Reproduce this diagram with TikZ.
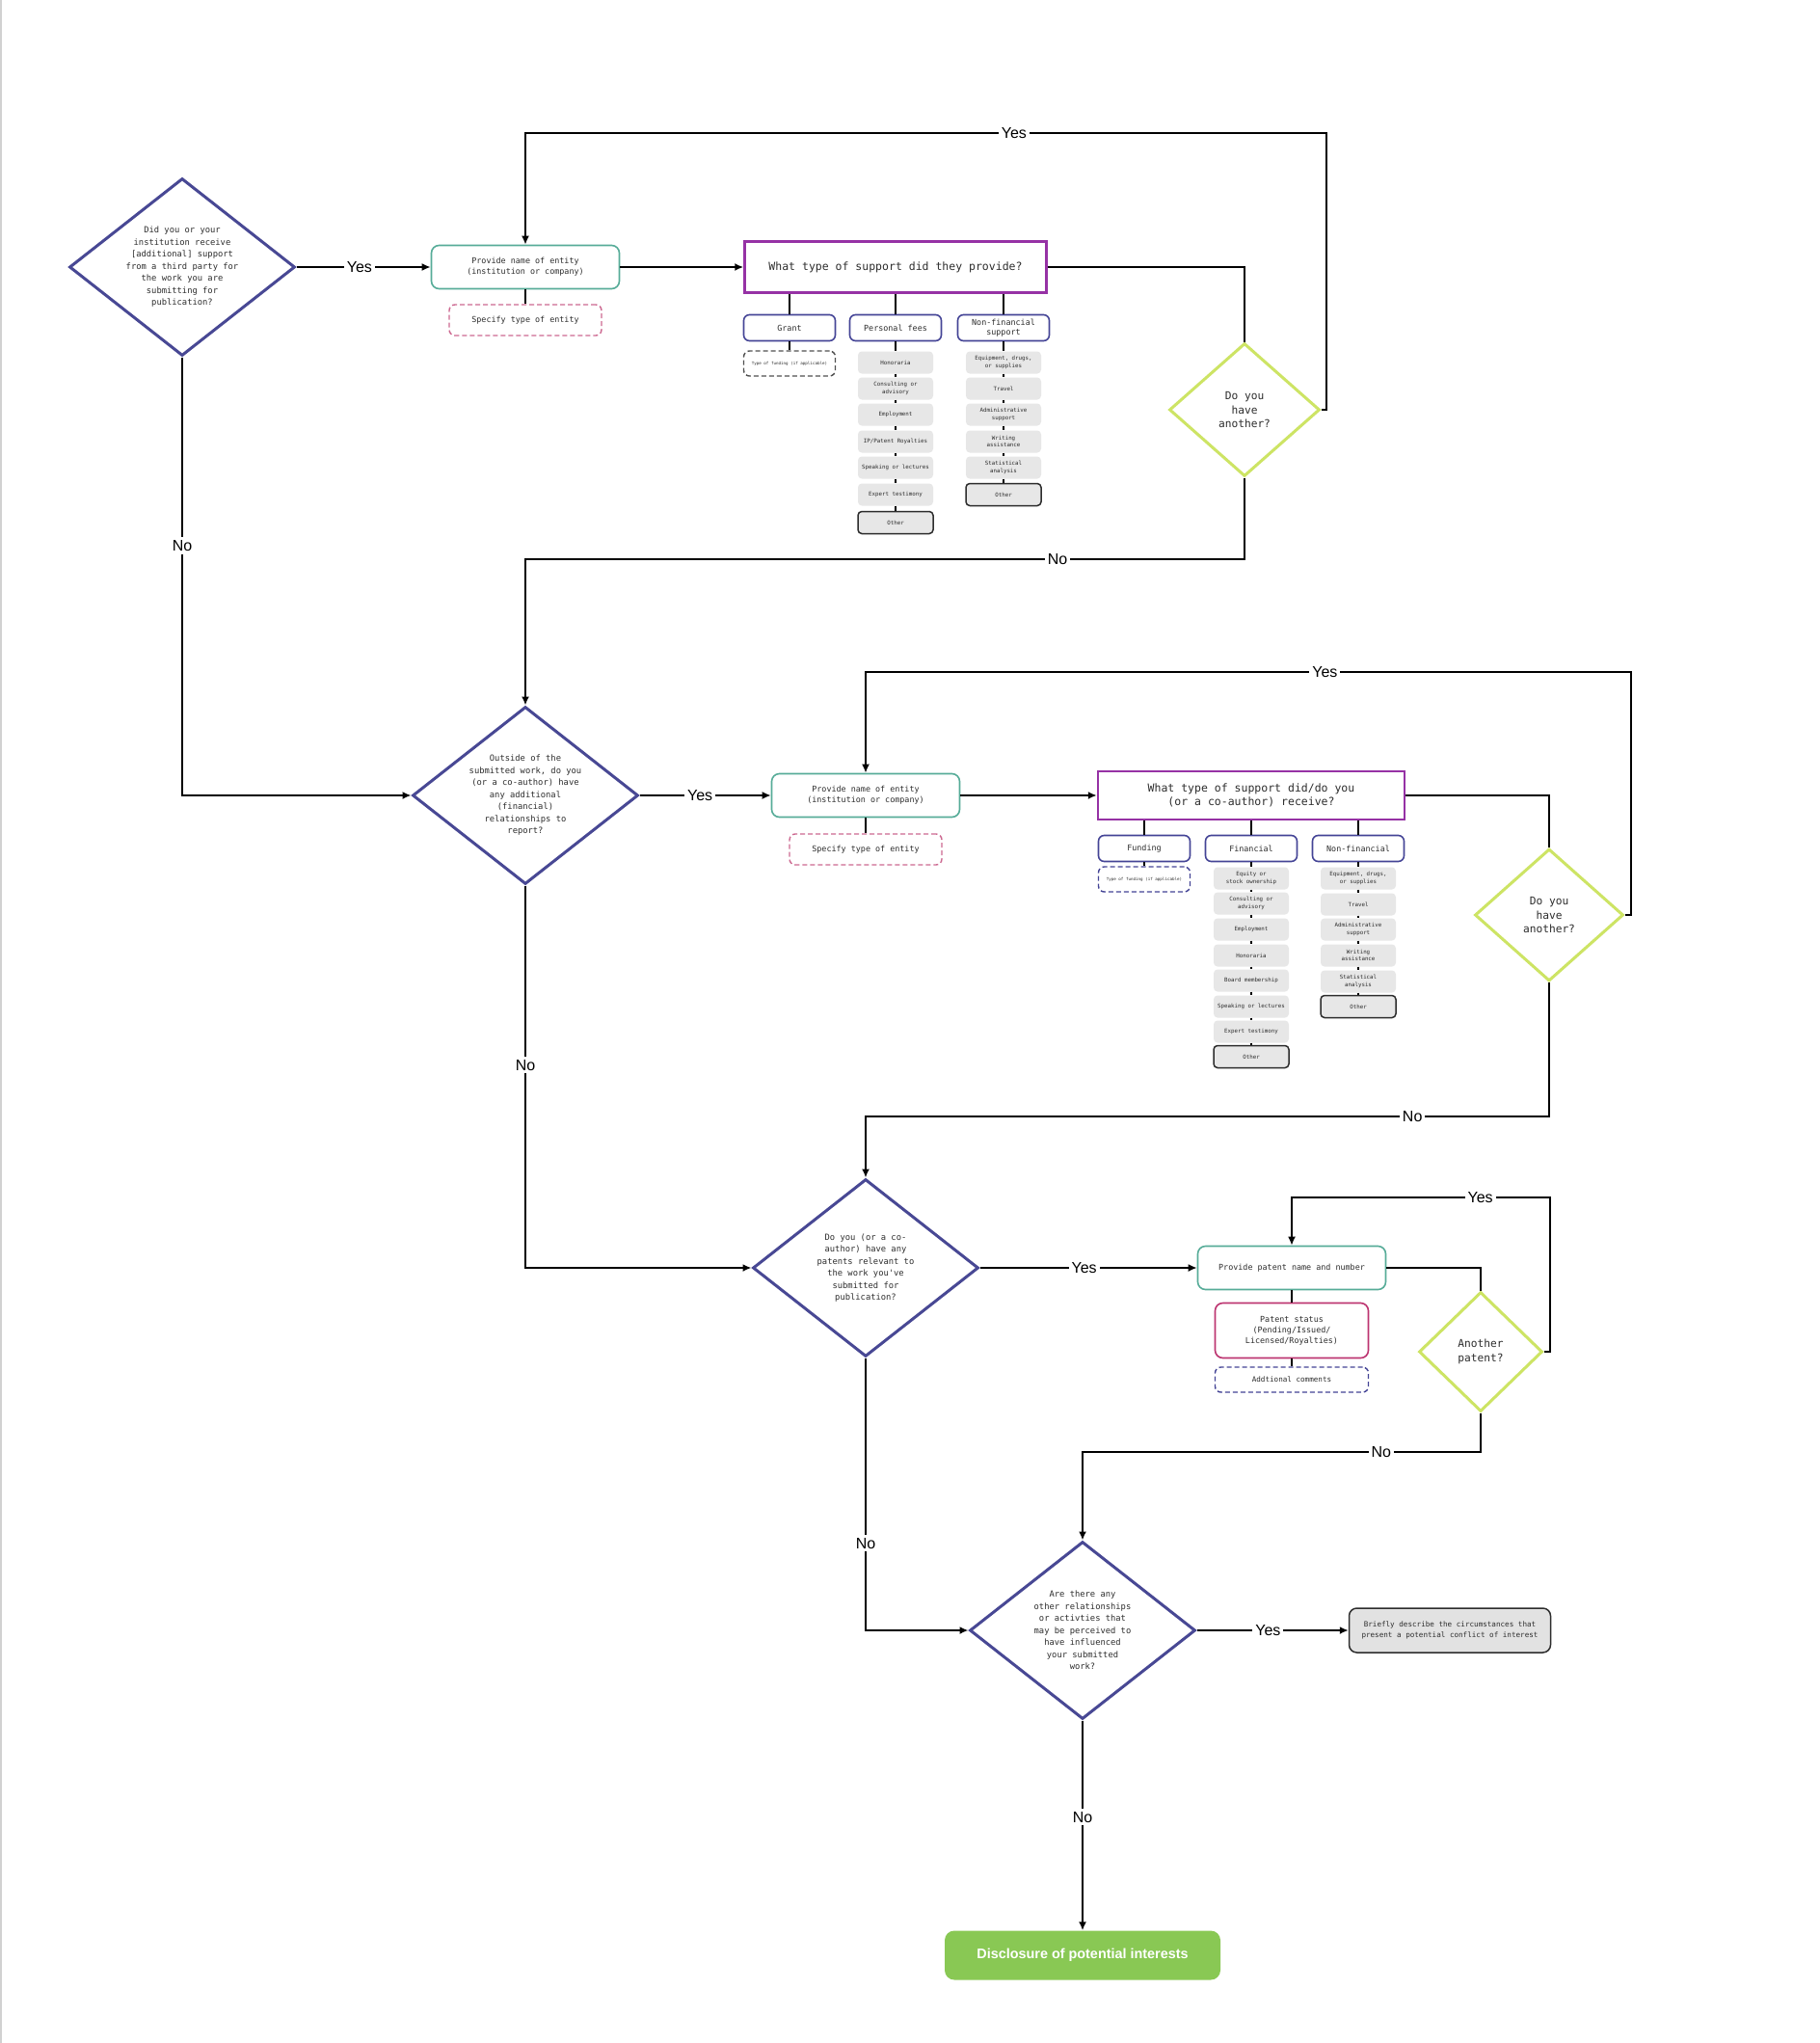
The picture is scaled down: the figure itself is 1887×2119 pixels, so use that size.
\documentclass[tikz,border=0pt]{standalone}
\usepackage{fontspec}
\setmonofont{DejaVu Sans Mono}
\setsansfont{Liberation Sans}
\usetikzlibrary{shapes.geometric,arrows.meta}

\definecolor{ink}{RGB}{45,45,45}
\definecolor{qblue}{RGB}{72,72,148}
\definecolor{tealb}{RGB}{86,172,152}
\definecolor{pinkd}{RGB}{205,105,145}
\definecolor{plum}{RGB}{150,50,165}
\definecolor{navyb}{RGB}{68,68,150}
\definecolor{limeq}{RGB}{205,228,100}
\definecolor{itemgray}{RGB}{231,231,231}
\definecolor{magb}{RGB}{188,52,112}
\definecolor{discgreen}{RGB}{137,200,84}
\definecolor{briefgray}{RGB}{226,226,226}
\definecolor{dashgray}{RGB}{80,80,80}

\begin{document}
\begin{tikzpicture}[x=1pt,y=-1pt,
  ask/.style={diamond, draw=qblue, line width=3pt, minimum width=234pt, minimum height=184pt,
    shape aspect=1.27, inner sep=0pt, align=center, text=ink,
    font=\ttfamily\fontsize{8.8}{12.5}\selectfont},
  again/.style={diamond, draw=limeq, line width=3pt, minimum width=156pt, minimum height=138pt,
    shape aspect=1.13, inner sep=0pt, align=center, text=ink,
    font=\ttfamily\fontsize{11.2}{14.6}\selectfont},
  entity/.style={rectangle, rounded corners=8pt, draw=tealb, line width=1.6pt,
    minimum width=195pt, minimum height=45pt, align=center, text=ink,
    font=\ttfamily\fontsize{8.4}{11}\selectfont},
  specify/.style={rectangle, rounded corners=6pt, draw=pinkd, dash pattern=on 5pt off 3pt,
    line width=1.4pt, minimum width=158pt, minimum height=32pt, align=center, text=ink,
    font=\ttfamily\fontsize{8.4}{11}\selectfont},
  supq/.style={rectangle, draw=plum, line width=2.5pt, minimum width=313pt, minimum height=53pt,
    align=center, text=ink, font=\ttfamily\fontsize{11.5}{14.5}\selectfont},
  hdr/.style={rectangle, rounded corners=6pt, draw=navyb, line width=1.6pt,
    minimum width=95pt, minimum height=27pt, inner sep=1pt, align=center, text=ink,
    font=\ttfamily\fontsize{8.4}{10.5}\selectfont},
  ftype/.style={rectangle, rounded corners=6pt, dash pattern=on 5pt off 3pt, line width=1.4pt,
    minimum width=95pt, minimum height=26pt, inner sep=1pt, text=ink,
    font=\ttfamily\fontsize{4.2}{5}\selectfont},
  item/.style={rectangle, rounded corners=4pt, fill=itemgray, minimum width=78pt,
    minimum height=23pt, inner sep=1pt, align=center, text=ink,
    font=\ttfamily\fontsize{5.8}{7.6}\selectfont},
  itemend/.style={item, draw=ink, line width=1.5pt},
  lbl/.style={fill=white, inner sep=3pt, text=black, font=\sffamily\fontsize{16}{16}\selectfont},
  link/.style={draw=black, line width=2pt},
  arr/.style={link, -{Latex[length=9pt,width=8pt]}}]

  \useasboundingbox[fill=white] (0,0) rectangle (1887,2119);
  \draw[black!18, line width=1.5pt] (1,0) -- (1,2119);

  % Define nodes: first question
  \node[ask] (q1) at (189,277) {Did you or your\\institution receive\\{[additional]} support\\from a third party for\\the work you are\\submitting for\\publication?};
  \node[entity] (ent1) at (545,277) {Provide name of entity\\(institution or company)};
  \node[specify] (spec1) at (545,332) {Specify type of entity};
  \node[supq] (sup1) at (929,277) {What type of support did they provide?};
  \node[hdr] (grant) at (819,340) {Grant};
  \node[hdr] (pfees) at (929,340) {Personal fees};
  \node[hdr] (nfin1) at (1041,340) {Non-financial\\support};
  \node[ftype, draw=dashgray] (gtype) at (819,377) {Type of funding (if applicable)};
  \node[item] (pf1) at (929,376) {Honoraria};
  \node[item] (pf2) at (929,403) {Consulting or\\advisory};
  \node[item] (pf3) at (929,430) {Employment};
  \node[item] (pf4) at (929,458) {IP/Patent Royalties};
  \node[item] (pf5) at (929,485) {Speaking or lectures};
  \node[item] (pf6) at (929,513) {Expert testimony};
  \node[itemend] (pf7) at (929,542) {Other};
  \node[item] (nfa1) at (1041,376) {Equipment, drugs,\\or supplies};
  \node[item] (nfa2) at (1041,403) {Travel};
  \node[item] (nfa3) at (1041,430) {Administrative\\support};
  \node[item] (nfa4) at (1041,458) {Writing\\assistance};
  \node[item] (nfa5) at (1041,485) {Statistical\\analysis};
  \node[itemend] (nfa6) at (1041,513) {Other};
  \node[again] (more1) at (1291,425) {Do you\\have\\another?};
  \coordinate (yes1) at (1376,138);
  \coordinate (no1) at (1291,580);

  % second question
  \node[ask] (q2) at (545,825) {Outside of the\\submitted work, do you\\(or a co-author) have\\any additional\\(financial)\\relationships to\\report?};
  \node[entity] (ent2) at (898,825) {Provide name of entity\\(institution or company)};
  \node[specify] (spec2) at (898,881) {Specify type of entity};
  \node[supq, minimum width=318pt, minimum height=50pt] (sup2) at (1298,825) {What type of support did/do you\\(or a co-author) receive?};
  \node[hdr] (fund) at (1187,880) {Funding};
  \node[hdr] (fin) at (1298,880) {Financial};
  \node[hdr] (nfin2) at (1409,880) {Non-financial};
  \node[ftype, draw=navyb] (fdtype) at (1187,912) {Type of funding (if applicable)};
  \node[item] (fi1) at (1298,911) {Equity or\\stock ownership};
  \node[item] (fi2) at (1298,937) {Consulting or\\advisory};
  \node[item] (fi3) at (1298,964) {Employment};
  \node[item] (fi4) at (1298,991) {Honoraria};
  \node[item] (fi5) at (1298,1017) {Board membership};
  \node[item] (fi6) at (1298,1044) {Speaking or lectures};
  \node[item] (fi7) at (1298,1070) {Expert testimony};
  \node[itemend] (fi8) at (1298,1096) {Other};
  \node[item] (nfb1) at (1409,911) {Equipment, drugs,\\or supplies};
  \node[item] (nfb2) at (1409,938) {Travel};
  \node[item] (nfb3) at (1409,964) {Administrative\\support};
  \node[item] (nfb4) at (1409,991) {Writing\\assistance};
  \node[item] (nfb5) at (1409,1018) {Statistical\\analysis};
  \node[itemend] (nfb6) at (1409,1044) {Other};
  \node[again, minimum width=154pt, minimum height=137pt] (more2) at (1607,949) {Do you\\have\\another?};
  \coordinate (yes2) at (1692,697);
  \coordinate (no2) at (1607,1158);

  % patents
  \node[ask] (q3) at (898,1315) {Do you (or a co-\\author) have any\\patents relevant to\\the work you've\\submitted for\\publication?};
  \node[entity] (pat) at (1340,1315) {Provide patent name and number};
  \node[entity, draw=magb, minimum width=159pt, minimum height=57pt] (pstat) at (1340,1380) {Patent status\\(Pending/Issued/\\Licensed/Royalties)};
  \node[specify, draw=navyb, minimum width=159pt, minimum height=26pt, font=\ttfamily\fontsize{7.6}{9}\selectfont] (pcom) at (1340,1431) {Addtional comments};
  \node[again, minimum width=128pt, minimum height=124pt, shape aspect=1.03] (more3) at (1536,1402) {Another\\patent?};
  \coordinate (yes3) at (1608,1242);
  \coordinate (no3) at (1536,1506);

  % other relationships
  \node[ask] (q4) at (1123,1691) {Are there any\\other relationships\\or activties that\\may be perceived to\\have influenced\\your submitted\\work?};
  \node[rectangle, rounded corners=8pt, fill=briefgray, draw=ink, line width=1.5pt,
    minimum width=209pt, minimum height=46pt, align=center, text=ink,
    font=\ttfamily\fontsize{7.6}{11}\selectfont] (brief) at (1504,1691) {Briefly describe the circumstances that\\present a potential conflict of interest};
  \node[rectangle, rounded corners=10pt, fill=discgreen, minimum width=286pt, minimum height=51pt,
    text=white, font=\sffamily\bfseries\fontsize{14.4}{16}\selectfont] (disc) at (1123,2028) {Disclosure of potential interests};

  % Draw connectors: first question
  \draw[arr] (q1.east) -- node[lbl, pos=0.47] {Yes} (ent1.west);
  \draw[link] (ent1.south) -- (spec1.north);
  \draw[arr] (ent1.east) -- (sup1.west);
  \draw[link] (sup1.south -| grant.north) -- (grant.north);
  \draw[link] (sup1.south) -- (pfees.north);
  \draw[link] (sup1.south -| nfin1.north) -- (nfin1.north);
  \draw[link] (grant.south) -- (gtype.north);
  \draw[link] (pfees.south) -- (pf1.north);
  \draw[link] (pf1.south) -- (pf2.north);
  \draw[link] (pf2.south) -- (pf3.north);
  \draw[link] (pf3.south) -- (pf4.north);
  \draw[link] (pf4.south) -- (pf5.north);
  \draw[link] (pf5.south) -- (pf6.north);
  \draw[link] (pf6.south) -- (pf7.north);
  \draw[link] (nfin1.south) -- (nfa1.north);
  \draw[link] (nfa1.south) -- (nfa2.north);
  \draw[link] (nfa2.south) -- (nfa3.north);
  \draw[link] (nfa3.south) -- (nfa4.north);
  \draw[link] (nfa4.south) -- (nfa5.north);
  \draw[link] (nfa5.south) -- (nfa6.north);
  \draw[link] (sup1.east) -| (more1.north);
  \draw[arr] (more1.east) -| (yes1) -- node[lbl, pos=0.39] {Yes} (yes1 -| ent1.north) -- (ent1.north);
  \draw[arr] (more1.south) -- (no1) -- node[lbl, pos=0.26] {No} (no1 -| q2.north) -- (q2.north);
  \draw[arr] (q1.south) -- node[lbl, pos=0.43] {No} (q1.south |- q2.west) -- (q2.west);

  % second question
  \draw[arr] (q2.east) -- node[lbl, pos=0.46] {Yes} (ent2.west);
  \draw[link] (ent2.south) -- (spec2.north);
  \draw[arr] (ent2.east) -- (sup2.west);
  \draw[link] (sup2.south -| fund.north) -- (fund.north);
  \draw[link] (sup2.south) -- (fin.north);
  \draw[link] (sup2.south -| nfin2.north) -- (nfin2.north);
  \draw[link] (fund.south) -- (fdtype.north);
  \draw[link] (fin.south) -- (fi1.north);
  \draw[link] (fi1.south) -- (fi2.north);
  \draw[link] (fi2.south) -- (fi3.north);
  \draw[link] (fi3.south) -- (fi4.north);
  \draw[link] (fi4.south) -- (fi5.north);
  \draw[link] (fi5.south) -- (fi6.north);
  \draw[link] (fi6.south) -- (fi7.north);
  \draw[link] (fi7.south) -- (fi8.north);
  \draw[link] (nfin2.south) -- (nfb1.north);
  \draw[link] (nfb1.south) -- (nfb2.north);
  \draw[link] (nfb2.south) -- (nfb3.north);
  \draw[link] (nfb3.south) -- (nfb4.north);
  \draw[link] (nfb4.south) -- (nfb5.north);
  \draw[link] (nfb5.south) -- (nfb6.north);
  \draw[link] (sup2.east) -| (more2.north);
  \draw[arr] (more2.east) -| (yes2) -- node[lbl, pos=0.40] {Yes} (yes2 -| ent2.north) -- (ent2.north);
  \draw[arr] (more2.south) -- (no2) -- node[lbl, pos=0.20] {No} (no2 -| q3.north) -- (q3.north);
  \draw[arr] (q2.south) -- node[lbl, pos=0.47] {No} (q2.south |- q3.west) -- (q3.west);

  % patents
  \draw[arr] (q3.east) -- node[lbl, pos=0.48] {Yes} (pat.west);
  \draw[link] (pat.south) -- (pstat.north);
  \draw[link] (pstat.south) -- (pcom.north);
  \draw[link] (pat.east) -| (more3.north);
  \draw[arr] (more3.east) -| (yes3) -- node[lbl, pos=0.27] {Yes} (yes3 -| pat.north) -- (pat.north);
  \draw[arr] (more3.south) -- (no3) -- node[lbl, pos=0.25] {No} (no3 -| q4.north) -- (q4.north);
  \draw[arr] (q3.south) -- node[lbl, pos=0.68] {No} (q3.south |- q4.west) -- (q4.west);

  % other relationships
  \draw[arr] (q4.east) -- node[lbl, pos=0.47] {Yes} (brief.west);
  \draw[arr] (q4.south) -- node[lbl, pos=0.46] {No} (disc.north);
\end{tikzpicture}
\end{document}
